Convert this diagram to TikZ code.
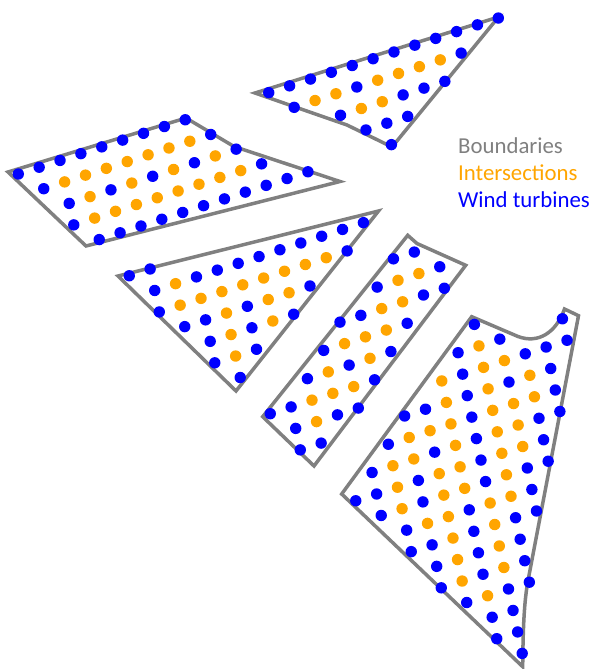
\documentclass[tikz,border=0pt]{standalone}
\usepackage{fontspec}
\setmainfont{Carlito}
\definecolor{tblue}{RGB}{0,0,255}
\definecolor{torange}{RGB}{255,165,0}
\definecolor{tgray}{RGB}{128,128,128}
\newcount\dotidx
\def\drow#1#2#3{\dotidx=#2\relax\def\dotrowj{#1}\drowi#3\relax}
\def\drowi#1{\ifx#1\relax\else\fill[d#1] (\the\dotidx,\dotrowj) circle[radius=5.7pt];\advance\dotidx by 1\relax\expandafter\drowi\fi}
\tikzset{
  dB/.style={fill=tblue},
  dO/.style={fill=torange},
  bnd/.style={draw=tgray, line width=3.5pt},
  lbl/.style={anchor=base west, inner sep=0pt, font=\fontsize{22.8}{27}\selectfont}
}
\begin{document}
\begin{tikzpicture}[x=1pt,y=-1pt]
\useasboundingbox (0,0) rectangle (594,669);
% boundaries
\draw[bnd] (255,93) -- (347,125) -- (392,147) -- (498.5,17) -- cycle;
\draw[bnd] (8,172) -- (186,118) -- (234,146.5) -- (340,181.5) -- (86,246) -- cycle;
\draw[bnd] (118,276) -- (378.5,211) -- (236,391) -- cycle;
\draw[bnd] (262.7,416.7) -- (407.7,235.3) -- (417,243.5) -- (465.7,265.3) -- (314,466) -- cycle;
\draw[bnd] (471.7,316.7) -- (518,336.5) .. controls (538,344) and (556,333) .. (564.5,309) -- (578.5,315.7) -- (528.5,578) .. controls (524,600) and (523,630) .. (522.7,666.7) -- (341.7,494) -- cycle;
% turbines and intersections on the lattice
\begin{scope}[shift={(18.3,174)}, x={(20.87pt,6.78pt)}, y={(25.45pt,-14.7pt)}]
% region 1
\drow{0}{12}{BBBBBBBBBBBB}
\drow{1}{12}{BOOBOOOOB}
\drow{2}{13}{BOOBBB}
\drow{3}{13}{BBB}
\drow{4}{13}{B}
% region 2
\drow{0}{0}{BBBBBBBBB}
\drow{1}{0}{BOOOOOOOB}
\drow{2}{0}{BOBOBOBOB}
\drow{3}{-1}{BOOOOOOOOB}
\drow{4}{-1}{BBBBBBBBBBB}
% region 3
\drow{6}{-2}{BB}
\drow{7}{-2}{BOBBBBBBBBB}
\drow{8}{-3}{BOOOOOOOOB}
\drow{9}{-3}{BBOBOOB}
\drow{10}{-3}{BOBOB}
\drow{11}{-4}{BOB}
\drow{12}{-4}{B}
% region 4
\drow{9}{7}{BB}
\drow{10}{5}{BOOB}
\drow{11}{2}{BBOOBB}
\drow{12}{0}{BOOOB}
\drow{13}{-2}{BOBOB}
\drow{14}{-5}{BBOOOB}
\drow{15}{-5}{BOBB}
\drow{16}{-6}{BB}
% region 5
\drow{13}{6}{B}
\drow{14}{4}{BOB}
\drow{14}{9}{B}
\drow{15}{2}{OBOOBBB}
\drow{16}{-1}{BBOBOBOB}
\drow{17}{-3}{BOOOBOOOB}
\drow{18}{-5}{BOOBOBOOBB}
\drow{19}{-7}{BBOBOOBOOB}
\drow{20}{-7}{BOBOOBOBB}
\drow{21}{-7}{BOOBOOB}
\drow{22}{-8}{BBOBOBB}
\drow{23}{-8}{BOBOB}
\drow{24}{-9}{BOBOB}
\drow{25}{-9}{BOBB}
\drow{26}{-9}{BB}
\drow{27}{-10}{BB}
\drow{28}{-10}{B}
\end{scope}
% legend
\node[lbl, text=tgray] (lgb) at (458,153.5) {Boundaries};
\node[lbl, text=torange] (lgi) at (458,180.5) {Intersections};
\node[lbl, text=tblue] (lgw) at (458,207.5) {Wind turbines};
\end{tikzpicture}
\end{document}
